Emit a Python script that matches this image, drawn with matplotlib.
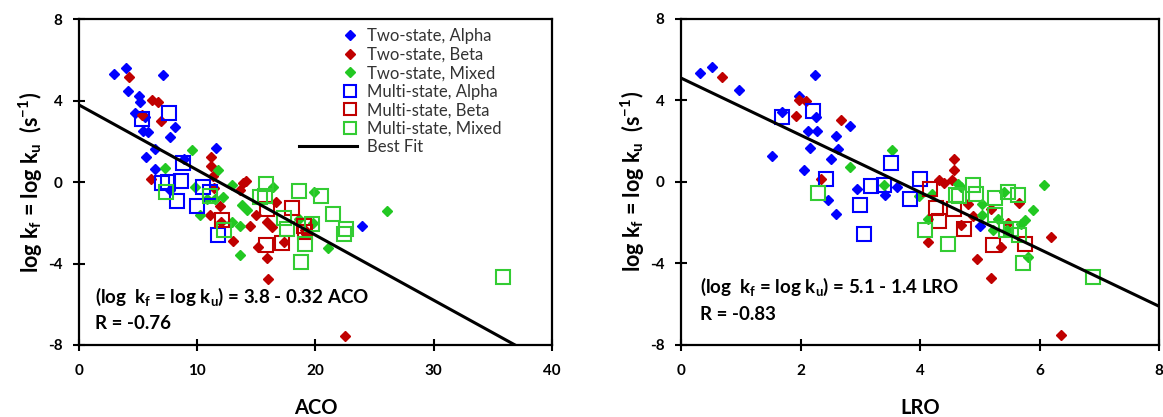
import numpy as np
import matplotlib.pyplot as plt
from matplotlib.legend_handler import HandlerLine2D

plt.rcParams['font.family'] = ['Lato', 'DejaVu Sans']
plt.rcParams['mathtext.fontset'] = 'custom'
plt.rcParams['mathtext.rm'] = 'Lato:bold'
plt.rcParams['mathtext.default'] = 'rm'
plt.rcParams['axes.unicode_minus'] = False

# ---- ACO panel data ----
aco_ts_alpha_x = [3.0, 3.95, 4.15, 5.05, 5.15, 4.7, 5.6, 5.45, 5.85, 7.13, 7.72, 8.15, 6.4, 5.7, 6.4, 11.6, 8.85, 7.67, 23.9]
aco_ts_alpha_y = [5.33, 5.63, 4.5, 4.22, 3.93, 3.4, 3.2, 2.5, 2.48, 5.28, 2.2, 2.7, 1.65, 1.25, 0.65, 1.7, 1.13, -0.4, -2.15]
aco_ts_beta_x = [4.23, 6.2, 6.67, 5.3, 6.9, 6.1, 11.2, 11.2, 11.35, 11.4, 11.9, 11.1, 12.0, 13.05, 13.6, 13.9, 14.15,
                 14.45, 14.93, 15.15, 15.87, 16.3, 15.9, 16.0, 16.7, 17.3, 19.1, 19.2, 22.5]
aco_ts_beta_y = [5.17, 4.02, 3.94, 3.29, 3.01, 0.18, 1.22, 0.8, 0.3, -0.3, -1.15, -1.63, -1.95, -2.87, -0.38, -0.05, 0.06,
                 -2.15, -1.62, -3.17, -1.94, -2.18, -3.72, -4.74, -0.97, -2.93, -2.35, -2.55, -7.55]
aco_ts_mixed_x = [7.26, 9.55, 9.83, 10.2, 11.76, 10.8, 12.2, 12.92, 13.77, 12.93, 13.6, 13.58, 14.18, 16.45, 18.62,
                  19.9, 19.75, 21.05, 26.05, 11.5]
aco_ts_mixed_y = [0.72, 1.56, -0.22, -1.6, 0.6, -0.8, -0.71, -0.14, -1.14, -1.95, -2.17, -3.58, -1.38, -0.25, -1.79,
                  -0.5, -2.02, -3.25, -1.42, -0.8]
aco_ms_alpha_x = [5.32, 7.6, 7.04, 7.51, 8.61, 8.29, 8.83, 9.95, 10.49, 11.74, 11.1]
aco_ms_alpha_y = [3.12, 3.42, -0.04, 0.01, 0.06, -0.94, 0.96, -1.17, -0.23, -2.57, -0.48]
aco_ms_beta_x = [12.06, 15.84, 17.13, 18.04, 19.0, 19.15, 15.9]
aco_ms_beta_y = [-1.86, -3.09, -2.97, -1.26, -2.16, -2.47, -1.33]
aco_ms_mixed_x = [7.36, 11.1, 12.3, 15.81, 15.74, 15.3, 17.3, 17.56, 18.62, 20.5, 21.5, 22.45, 22.55, 19.1, 18.8,
                  19.68, 35.9]
aco_ms_mixed_y = [-0.5, -0.68, -2.35, -0.1, -0.67, -0.72, -1.77, -2.32, -0.44, -0.66, -1.54, -2.55, -2.3, -3.02, -3.93,
                  -2.05, -4.68]
aco_fit = (3.8, -0.32)
aco_r = -0.76

# ---- LRO panel data ----
lro_ts_alpha_x = [0.31, 0.51, 0.97, 1.53, 1.69, 1.98, 2.06, 2.15, 2.12, 2.24, 2.28, 2.26, 2.51, 2.59, 2.62, 2.46, 2.60,
                  2.83, 2.94, 3.42, 3.62, 5.0]
lro_ts_alpha_y = [5.36, 5.63, 4.52, 1.26, 3.43, 4.24, 0.60, 1.67, 2.48, 5.27, 2.48, 3.18, 1.14, 2.24, 1.63, -0.90, -1.55,
                  2.74, -0.36, -0.65, -0.24, -2.16]
lro_ts_beta_x = [0.68, 1.92, 1.98, 2.09, 2.68, 2.34, 4.14, 4.31, 4.40, 4.56, 4.57, 4.54, 4.81, 4.69, 4.88, 4.96, 5.19,
                 5.35, 5.19, 5.47, 5.66, 6.2, 6.36]
lro_ts_beta_y = [5.14, 3.22, 4.0, 3.95, 3.02, 0.16, -2.94, 0.08, -0.05, 1.11, 0.60, 0.08, -1.06, -2.12, -1.68, -3.80,
                 -4.73, -3.18, -1.31, -2.01, -1.03, -2.69, -7.51]
lro_ts_mixed_x = [2.83, 3.53, 3.39, 3.98, 4.14, 4.2, 4.63, 4.69, 5.04, 5.22, 5.04, 5.3, 5.45, 5.41, 5.69, 5.75, 5.81,
                  5.89, 6.08]
lro_ts_mixed_y = [0.73, 1.58, -0.16, -0.69, -1.84, -0.57, -0.08, -0.24, -1.06, -2.37, -1.63, -1.8, -2.35, -0.49, -2.04,
                  -1.88, -3.67, -1.39, -0.13]
lro_ms_alpha_x = [1.69, 2.21, 2.43, 3.0, 3.07, 3.18, 3.39, 3.52, 3.83, 4.0]
lro_ms_alpha_y = [3.18, 3.46, 0.13, -1.11, -2.53, -0.2, -0.16, 0.95, -0.85, 0.13]
lro_ms_beta_x = [4.16, 4.26, 4.31, 4.57, 4.73, 5.22, 5.75]
lro_ms_beta_y = [-0.36, -1.27, -1.91, -1.34, -2.29, -3.10, -3.02]
lro_ms_mixed_x = [2.29, 4.09, 4.47, 4.61, 4.66, 4.88, 4.94, 5.25, 5.25, 5.48, 5.64, 5.44, 5.52, 5.66, 5.72, 6.9]
lro_ms_mixed_y = [-0.54, -2.37, -3.05, -0.62, -0.7, -0.13, -0.57, -0.77, -1.63, -0.49, -0.65, -2.37, -2.3, -2.61,
                  -4.0, -4.65]
lro_fit = (5.1, -1.4)
lro_r = -0.83

labels = ['Two-state, Alpha', 'Two-state, Beta', 'Two-state, Mixed',
          'Multi-state, Alpha', 'Multi-state, Beta', 'Multi-state, Mixed']
colors = ['#0000FF', '#C00000', '#22C822', '#0000FF', '#C00000', '#33CC33']


class LongLineHandler(HandlerLine2D):
    # stretch the line handle further to the left than the marker handles
    def get_xdata(self, legend, xdescent, ydescent, width, height, fontsize):
        xdata, xm = super().get_xdata(legend, xdescent, ydescent, width, height, fontsize)
        return [xdata[0] - 2.6 * fontsize, xdata[-1]], xm


def draw_panel(ax, series, fit, xmax, xticks, xname):
    handles = []
    for i, (xs, ys) in enumerate(series):
        if i < 3:
            h, = ax.plot(xs, ys, 'D', color=colors[i], ms=5.6, mec=colors[i], ls='none', zorder=3)
        else:
            h, = ax.plot(xs, ys, 's', mfc='none', mec=colors[i], ms=9.5, mew=1.5, ls='none', zorder=3)
        handles.append(h)
    b, m = fit
    fx = np.array([0, xmax])
    fl, = ax.plot(fx, b + m * fx, color='black', lw=2.2, zorder=4)
    ax.set_xlim(0, xmax)
    ax.set_ylim(-8, 8)
    ax.set_xticks(xticks)
    ax.set_yticks([-8, -4, 0, 4, 8])
    for sp in ax.spines.values():
        sp.set_linewidth(1.6)
    ax.tick_params(direction='inout', length=8, width=1.5, labelsize=11)
    ax.tick_params(axis='x', pad=10)
    ax.tick_params(axis='y', pad=8)
    for lab in ax.get_xticklabels() + ax.get_yticklabels():
        lab.set_fontweight('bold')
    ax.set_xlabel(xname, fontsize=14.5, fontweight='bold', labelpad=14)
    ax.set_ylabel(r'log k$_{f}$ = log k$_{u}$  (s$^{-1}$)', fontsize=15.5, fontweight='bold', labelpad=2)
    return handles, fl


fig = plt.figure(figsize=(11.63, 4.17), dpi=100)
ax1 = fig.add_axes([0.0679, 0.1727, 0.4067, 0.7806])
ax2 = fig.add_axes([0.5856, 0.1727, 0.4110, 0.7818])

aco_series = [(aco_ts_alpha_x, aco_ts_alpha_y), (aco_ts_beta_x, aco_ts_beta_y), (aco_ts_mixed_x, aco_ts_mixed_y),
              (aco_ms_alpha_x, aco_ms_alpha_y), (aco_ms_beta_x, aco_ms_beta_y), (aco_ms_mixed_x, aco_ms_mixed_y)]
lro_series = [(lro_ts_alpha_x, lro_ts_alpha_y), (lro_ts_beta_x, lro_ts_beta_y), (lro_ts_mixed_x, lro_ts_mixed_y),
              (lro_ms_alpha_x, lro_ms_alpha_y), (lro_ms_beta_x, lro_ms_beta_y), (lro_ms_mixed_x, lro_ms_mixed_y)]

h1, fl1 = draw_panel(ax1, aco_series, aco_fit, 40, [0, 10, 20, 30, 40], 'ACO')
h2, fl2 = draw_panel(ax2, lro_series, lro_fit, 8, [0, 2, 4, 6, 8], 'LRO')

# equation annotations
eq_kw = dict(fontsize=13.5, fontweight='bold', va='center')
ax1.text(0.034, 0.149, r'(log  k$_{f}$ = log k$_{u}$) = %.1f - %.2f ACO' % (aco_fit[0], -aco_fit[1]),
         transform=ax1.transAxes, **eq_kw)
ax1.text(0.034, 0.066, 'R = %.2f' % aco_r, transform=ax1.transAxes, **eq_kw)
ax2.text(0.040, 0.177, r'(log  k$_{f}$ = log k$_{u}$) = %.1f - %.1f LRO' % (lro_fit[0], -lro_fit[1]),
         transform=ax2.transAxes, **eq_kw)
ax2.text(0.040, 0.093, 'R = %.2f' % lro_r, transform=ax2.transAxes, **eq_kw)

leg = ax1.legend(h1 + [fl1], labels + ['Best Fit'], loc='upper left', bbox_to_anchor=(0.557, 0.973),
                 frameon=False, borderpad=0, borderaxespad=0, handlelength=0.9, handletextpad=0.55,
                 labelspacing=0.15, markerscale=0.85, fontsize=12, numpoints=1,
                 handler_map={fl1: LongLineHandler()})
for t in leg.get_texts():
    t.set_color('#333333')

fig.savefig('out.png', dpi=100)
